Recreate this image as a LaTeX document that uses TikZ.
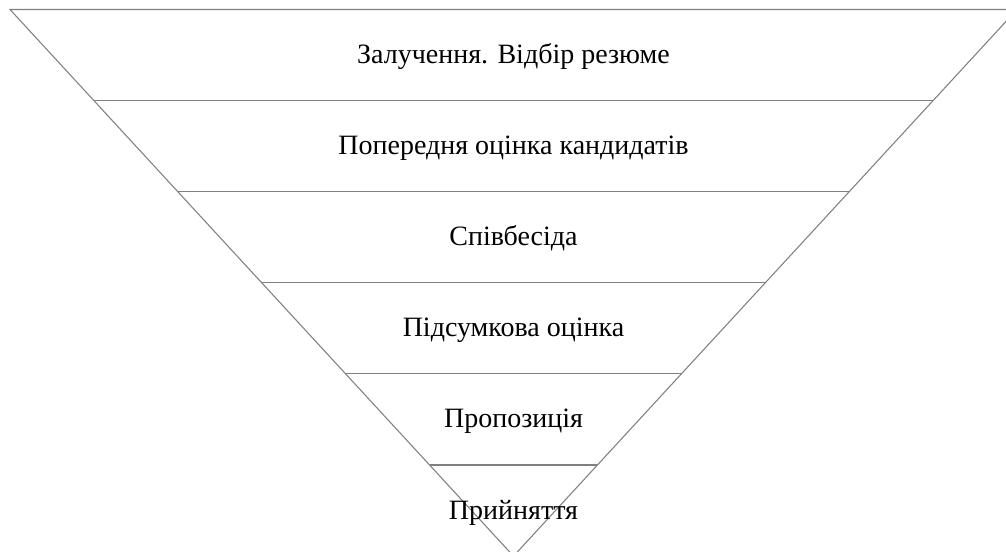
\documentclass[tikz,border=0pt]{standalone}
\usepackage{fontspec}
\setmainfont{Liberation Serif}
\usetikzlibrary{calc}
\begin{document}
\begin{tikzpicture}[x=0.75pt,y=-0.75pt,
  edge/.style={draw=black!50, line width=0.8pt},
  lbl/.style={font=\fontsize{21}{25}\selectfont, anchor=base, inner sep=0pt}]
\useasboundingbox (0,0) rectangle (1006,551);
\coordinate (A) at (10,9.5);
\coordinate (B) at (1017,9.5);
\coordinate (C) at (513.5,556.1);
\begin{scope}
\clip (0,0) rectangle (1006,551);
\draw[edge] (A) -- (C) -- (B) -- cycle;
\foreach \k in {1,...,5}{
  \draw[edge] ($(A)!\k/6!(C)$) -- ($(B)!\k/6!(C)$);
}
\end{scope}
\node[lbl] (t1) at (513.5,63.5) {Залучення. Відбір резюме};
\node[lbl] (t2) at (513.5,154.6) {Попередня оцінка кандидатів};
\node[lbl] (t3) at (513.5,245.7) {Співбесіда};
\node[lbl] (t4) at (513.5,336.8) {Підсумкова оцінка};
\node[lbl] (t5) at (513.5,427.9) {Пропозиція};
\node[lbl] (t6) at (513.5,519.0) {Прийняття};
\end{tikzpicture}
\end{document}
